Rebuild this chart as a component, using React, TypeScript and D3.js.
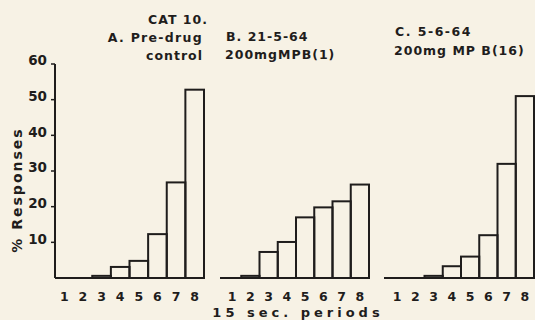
import React from 'react';
import * as d3 from 'd3';

const periods = ['1', '2', '3', '4', '5', '6', '7', '8'];
const controlA = [0, 0, 0.6, 3.1, 4.8, 12.3, 26.8, 52.8];
const sessionB = [0, 0.6, 7.3, 10.1, 17, 19.8, 21.5, 26.2];
const sessionC = [0, 0, 0.6, 3.3, 6, 12, 32, 51];
const yTicks = [10, 20, 30, 40, 50, 60];

const ink = '#1f1d1c';
const font = '"DejaVu Sans", sans-serif';

const panels = [
  { key: 'A', values: controlA, x0: 55, x1: 204, lineStart: 55 },
  { key: 'B', values: sessionB, x0: 223, x1: 369, lineStart: 220 },
  { key: 'C', values: sessionC, x0: 388, x1: 534, lineStart: 384 },
];

const App = () => {
  const width = 535;
  const height = 320;
  const y = d3.scaleLinear().domain([0, 60]).range([278, 64]);

  return (
    <svg width={width} height={height} style={{ position: 'fixed', left: 0, top: 0 }}>
      <rect width={width} height={height} fill="#f7f2e5" />
      <g fontFamily={font} fontWeight="bold" fill={ink}>
        {panels.map(p => {
          const x = d3.scaleBand().domain(periods).range([p.x0, p.x1]).padding(0);
          return (
            <g key={p.key}>
              {p.values.map((v, i) => v > 0 && (
                <rect key={i}
                  x={x(periods[i])}
                  y={y(v)}
                  width={x.bandwidth()}
                  height={y(0) - y(v)}
                  fill="none" stroke={ink} strokeWidth={2} />
              ))}
              <line x1={p.lineStart} x2={p.x1 + 1} y1={y(0)} y2={y(0)} stroke={ink} strokeWidth={2} />
              {periods.map(c => (
                <text key={c} x={(x(c) as number) + x.bandwidth() / 2} y={301}
                  textAnchor="middle" fontSize={12.5}>{c}</text>
              ))}
            </g>
          );
        })}

        {/* y axis, panel A only */}
        <line x1={55} x2={55} y1={y(60)} y2={y(0)} stroke={ink} strokeWidth={2} />
        {yTicks.map(t => (
          <g key={t}>
            <line x1={51} x2={55} y1={y(t)} y2={y(t)} stroke={ink} strokeWidth={1.5} />
            <text x={47} y={y(t)} dy="0.1em" textAnchor="end" fontSize={13.5}>{t}</text>
          </g>
        ))}
        <text transform="translate(22,190) rotate(-90)" textAnchor="middle" fontSize={14} letterSpacing={2}>% Responses</text>

        {/* titles */}
        <text x={148} y={24} fontSize={12.5} letterSpacing={1}>CAT 10.</text>
        <text x={203} y={42} textAnchor="end" fontSize={12.5} letterSpacing={1.3}>A. Pre-drug</text>
        <text x={203} y={60} textAnchor="end" fontSize={12.5} letterSpacing={1}>control</text>
        <text x={226} y={41} fontSize={12.5} letterSpacing={1}>B. 21-5-64</text>
        <text x={225} y={59} fontSize={12.5} letterSpacing={1}>200mgMPB(1)</text>
        <text x={395} y={36} fontSize={12.5} letterSpacing={1.5}>C. 5-6-64</text>
        <text x={394} y={55} fontSize={12.5} letterSpacing={1}>200mg MP B(16)</text>

        <text x={298} y={317} textAnchor="middle" fontSize={13} letterSpacing={4}>15 sec. periods</text>
      </g>
    </svg>
  );
};

export default App;
